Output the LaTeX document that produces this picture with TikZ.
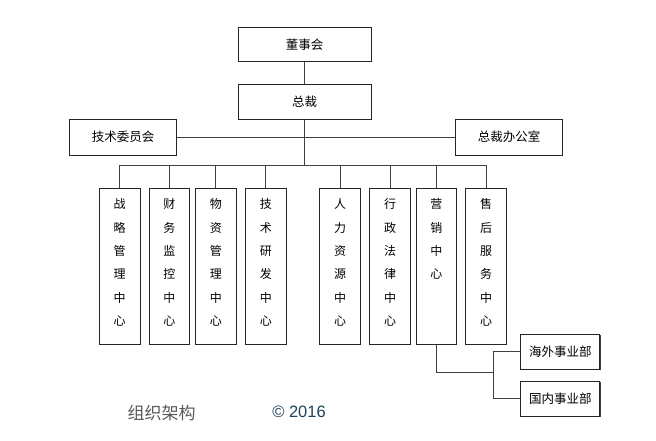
\documentclass[tikz,border=0pt]{standalone}
\usepackage{fontspec}
\newfontfamily\cjk{Noto Sans CJK SC}
\newfontfamily\latinsans{Liberation Sans}
\usetikzlibrary{shadows}
\definecolor{footblue}{RGB}{28,68,88}
\newcommand\vtext[1]{\begin{tabular}[t]{@{}c@{}}#1\end{tabular}}
\begin{document}
\begin{tikzpicture}[
                x=1pt, y=-1pt,
                box/.style={draw=black!85, line width=0.7pt, fill=white, inner sep=0pt,
                    drop shadow={shadow xshift=0.8pt, shadow yshift=-0.8pt, opacity=1, fill=black!75},
                    font=\cjk\fontsize{12.5}{15}\selectfont},
                vbox/.style={box, minimum width=40.5pt, inner ysep=5pt,
                    text height=15.5pt, text depth=130.5pt,
                    font=\cjk\fontsize{12}{23.3}\selectfont},
                line/.style={draw=black!75, line width=0.8pt},
            ]
            \useasboundingbox (0,0) rectangle (656,441);
            \node[box, minimum width=133pt, minimum height=34pt] (board) at (304.5,44.5) {董事会};
            \node[box, minimum width=133pt, minimum height=35pt] (ceo) at (304.5,101.7) {总裁};
            \node[box, minimum width=107pt, minimum height=36pt] (tech) at (123,137) {技术委员会};
            \node[box, minimum width=107pt, minimum height=36pt] (office) at (509,137) {总裁办公室};
            \coordinate (bus) at (0,165.3);
            \node[vbox] (strategy) at (119.6,266.3) {\vtext{战\\略\\管\\理\\中\\心}};
            \node[vbox] (finance) at (169.3,266.3) {\vtext{财\\务\\监\\控\\中\\心}};
            \node[vbox] (material) at (215.8,266.3) {\vtext{物\\资\\管\\理\\中\\心}};
            \node[vbox] (research) at (265.8,266.3) {\vtext{技\\术\\研\\发\\中\\心}};
            \node[vbox] (hr) at (340,266.3) {\vtext{人\\力\\资\\源\\中\\心}};
            \node[vbox] (legal) at (390,266.3) {\vtext{行\\政\\法\\律\\中\\心}};
            \node[vbox] (sales) at (436.3,266.3) {\vtext{营\\销\\中\\心}};
            \node[vbox] (service) at (486,266.3) {\vtext{售\\后\\服\\务\\中\\心}};
            \node[box, minimum width=79pt, minimum height=35pt] (abroad) at (560.3,351.7) {海外事业部};
            \node[box, minimum width=79pt, minimum height=35pt] (domestic) at (560.3,398.5) {国内事业部};
            \coordinate (split) at (493.3,372.7);
            % connectors
            \draw[line] (board) -- (ceo);
            \draw[line] (ceo.south) -- (ceo.south |- bus);
            \draw[line] (tech.east) -- (office.west);
            \draw[line] (strategy.north |- bus) -- (service.north |- bus);
            \foreach \n in {strategy,finance,material,research,hr,legal,sales,service}
                \draw[line] (\n.north) -- (\n.north |- bus);
            \draw[line] (sales.south) |- (split);
            \draw[line] (abroad.west) -| (split) |- (domestic.west);
            % footer
            \node[text=black!65, font=\cjk\fontsize{17}{20}\selectfont] (title) at (161.7,413) {组织架构};
            \node[text=footblue, font=\latinsans\fontsize{16.5}{20}\selectfont] (year) at (299,412) {© 2016};
            \end{tikzpicture}
\end{document}
